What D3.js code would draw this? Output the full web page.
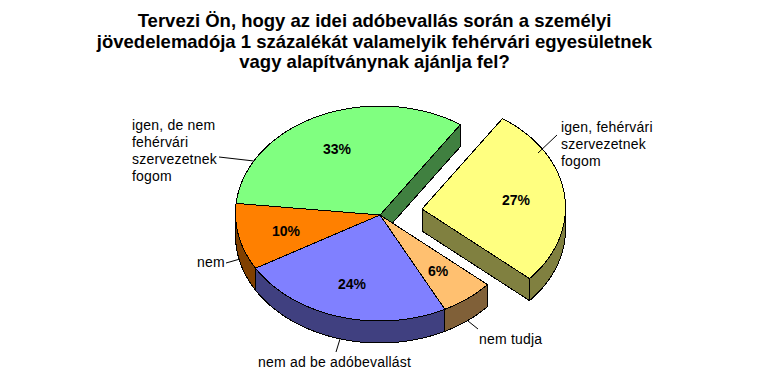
<!DOCTYPE html>
<html><head><meta charset="utf-8">
<script src="https://cdn.jsdelivr.net/npm/d3@7"></script>
<style>html,body{margin:0;padding:0;background:#fff}svg{display:block}
text{font-family:"Liberation Sans",Arial,sans-serif;fill:#000}</style></head>
<body><svg id="c" width="759" height="385"></svg>
<script>
const titleLines = ["Tervezi Ön, hogy az idei adóbevallás során a személyi","jövedelemadója 1 százalékát valamelyik fehérvári egyesületnek","vagy alapítványnak ajánlja fel?"];
const categories = ["igen, fehérvári szervezetnek fogom","nem tudja","nem ad be adóbevallást","nem","igen, de nem fehérvári szervezetnek fogom"];
const values = [27,6,24,10,33];
const topColors = ["#FFFF80","#FFC070","#8080FF","#FF8000","#80FF80"];
const sideColors = ["#808040","#806038","#404080","#804000","#408040"];
const categoryLines = [["igen, fehérvári","szervezetnek","fogom"],["nem tudja"],["nem ad be adóbevallást"],["nem"],["igen, de nem","fehérvári","szervezetnek","fogom"]];

// layout (not data)
const cx=380, cy=215, rx=144, ry=107.5, depth=22, startDeg=34.2, ellipseShift=[-0.5,-1.5];
const explode=[[42,-6],[0,0],[0,0],[0,0],[0,0]];
const pctPos=[[516,200],[438,271],[352,284],[286,231],[337,149]];
const labelPos=[[561,132],[479,344],[258,367],[197,267],[132,130]];
const leaders=[[[557,135],[538,153]],[[478,329],[468,321]],[[336,352],[340,339]],[[226,263],[240,259]],[[219,157],[254,161]]];

const svg=d3.select("#c");
const x=d3.scaleLinear().domain([-1,1]).range([-rx+ellipseShift[0],rx+ellipseShift[0]]);
const y=d3.scaleLinear().domain([-1,1]).range([-ry+ellipseShift[1],ry+ellipseShift[1]]);
const pie=d3.pie().sort(null).startAngle(startDeg*Math.PI/180).endAngle(startDeg*Math.PI/180+2*Math.PI);
const arcs=pie(values);
const pt=a=>[x(Math.sin(a)),y(-Math.cos(a))];
const samples=(a0,a1)=>d3.range(0,61).map(i=>a0+(a1-a0)*i/60);
const line=d3.line();
function face(d,fill,i){
  const [ox,oy]=explode[i];
  return svg.append("path").attr("transform",`translate(${cx+ox},${cy+oy})`).attr("d",d+"Z")
    .attr("fill",fill).attr("stroke","#000").attr("stroke-width",1).attr("shape-rendering","crispEdges");
}
const half=Math.PI;
// radial walls exposed by the exploded slice
face(line((p=>[[0,0],p,[p[0],p[1]+depth],[0,depth]])(pt(arcs[4].endAngle))),sideColors[4],4);
face(line((p=>[[0,0],p,[p[0],p[1]+depth],[0,depth]])(pt(arcs[0].endAngle))),sideColors[0],0);
// outer walls: only where the rim faces the viewer
arcs.forEach((a,i)=>{
  const lo=Math.max(a.startAngle,half/2), hi=Math.min(a.endAngle,half*1.5);
  if(hi<=lo) return;
  const top=samples(lo,hi).map(pt);
  const bot=top.map(p=>[p[0],p[1]+depth]).reverse();
  face(line(top.concat(bot)),sideColors[i],i);
});
// top faces
arcs.forEach((a,i)=>{
  face(line([[0,0]].concat(samples(a.startAngle,a.endAngle).map(pt))),topColors[i],i);
});
// leaders
leaders.forEach(l=>svg.append("path").attr("d",line(l)).attr("stroke","#000").attr("fill","none"));
// percent labels
const pctFmt=d3.format(".0f");
values.forEach((v,i)=>svg.append("text").attr("x",pctPos[i][0]).attr("y",pctPos[i][1]+5)
  .attr("text-anchor","middle").attr("font-weight","bold").attr("font-size",14).text(pctFmt(v)+"%"));
// category labels
categoryLines.forEach((ls,i)=>ls.forEach((s,j)=>svg.append("text").attr("x",labelPos[i][0]).attr("y",labelPos[i][1]+j*17)
  .attr("font-size",14).attr("letter-spacing",0.2).text(s)));
// title
[27,47.5,68].forEach((b,j)=>svg.append("text").attr("x",374.5).attr("y",b)
  .attr("text-anchor","middle").attr("font-weight","bold").attr("font-size",18.5).text(titleLines[j]));
</script></body></html>
